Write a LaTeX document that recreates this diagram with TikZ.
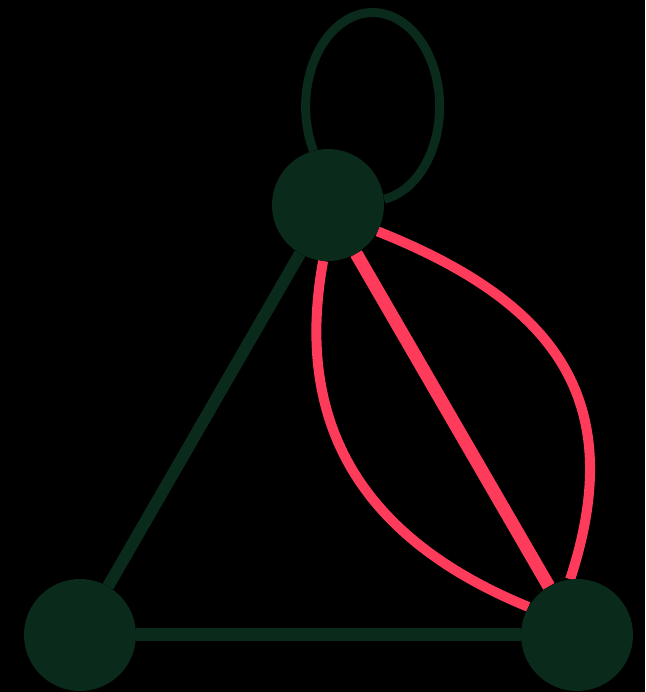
\documentclass[tikz,border=0pt]{standalone}
\usetikzlibrary{backgrounds}
\definecolor{nodegreen}{HTML}{0A2A1C}
\definecolor{edgepink}{HTML}{FF3B5C}
\pgfdeclarelayer{bg}
\pgfdeclarelayer{edges}
\pgfsetlayers{bg,edges,main}
\begin{document}
\begin{tikzpicture}[x=1pt,y=1pt,
  vertex/.style={circle,fill=nodegreen,draw=none,minimum size=112pt,inner sep=0pt},
  darkedge/.style={draw=nodegreen,line width=12pt},
  pinkedge/.style={draw=edgepink,line width=10pt},
  pinkthick/.style={draw=edgepink,line width=13pt}]
\begin{pgfonlayer}{bg}
\fill[black] (0,0) rectangle (645,692);
\end{pgfonlayer}
\useasboundingbox (0,0) rectangle (645,692);
\node[vertex] (top) at (328,487) {};
\node[vertex] (bl) at (80,57) {};
\node[vertex] (br) at (577,57) {};
\begin{pgfonlayer}{edges}
\draw[darkedge,line width=9pt] (top.105) arc[start angle=208,end angle=-80,x radius=67,y radius=94];
\draw[darkedge] (top) -- (bl);
\draw[darkedge,line width=13pt] (bl) -- (br);
\draw[pinkthick] (top) -- (br);
\draw[pinkedge] (top.-28) .. controls (555,390) and (629,292) .. (br.97);
\draw[pinkedge] (top.-95) .. controls (292,260) and (370,150) .. (br.150);
\end{pgfonlayer}
\end{tikzpicture}
\end{document}
